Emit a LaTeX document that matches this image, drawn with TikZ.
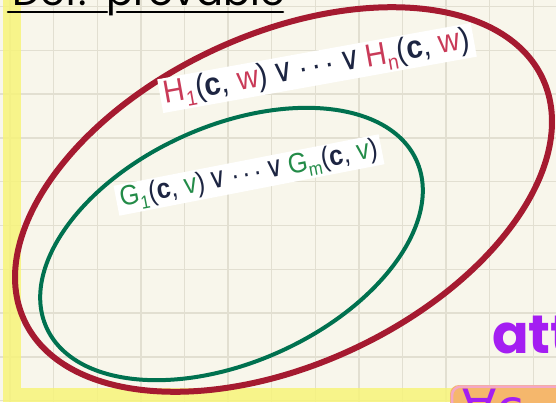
\documentclass[tikz,border=0pt]{standalone}
\usepackage{fontspec}
\usepackage{graphicx}
\setmainfont{Liberation Sans}
\newfontfamily\symfont{DejaVu Sans}
\newfontfamily\handfont{Poppins}
\definecolor{paper}{HTML}{F8F6EB}
\definecolor{gridc}{HTML}{E2DFD1}
\definecolor{hilite}{HTML}{F7F47A}
\definecolor{outerred}{HTML}{A51A30}
\definecolor{innergreen}{HTML}{00714F}
\definecolor{hred}{HTML}{C93A58}
\definecolor{ggreen}{HTML}{238B48}
\definecolor{navy}{HTML}{1D2542}
\definecolor{violet}{HTML}{A41EF2}
\definecolor{orangebox}{HTML}{F5B76C}
\definecolor{pinkedge}{HTML}{F3A7C6}
\newcommand\lsub[1]{\raisebox{-0.22em}{\scalebox{0.66}{#1}}}
\newcommand\nv[1]{\textcolor{navy}{#1}}
\newcommand\orsym{\nv{\,{\symfont ∨}\,}}
\newcommand\dts{\nv{·\hspace{0.12em}·\hspace{0.12em}·}}
\tikzset{
  gridline/.style={draw=gridc, line width=1.4pt},
  labelbox/.style={fill=white, inner xsep=4pt, inner ysep=2pt},
  hand/.style={font=\handfont\fontsize{40}{44}\selectfont, inner sep=0pt, anchor=base west}
}
\begin{document}
\begin{tikzpicture}[x=1pt, y=-1pt]
\useasboundingbox (0,0) rectangle (556,402);
\clip (0,0) rectangle (556,402);
\fill[paper] (0,0) rectangle (556,402);
% grid
\foreach \i in {0,...,12} {\draw[gridline] ({10+43.6*\i},0) -- ({10+43.6*\i},402);}
\foreach \j in {0,...,9} {\draw[gridline] (0,{6.5+43.8*\j}) -- (556,{6.5+43.8*\j});}
% highlighter border
\fill[hilite, opacity=0.85] (3,0) rectangle (21,402);
\fill[hilite, opacity=0.85] (21,388) rectangle (460,402);
% orange box at bottom right
\fill[orangebox, rounded corners=9pt] (450,385) rectangle (580,430);
\draw[pinkedge, line width=2.5pt, rounded corners=9pt] (452,431) -- (452,386.5) -- (580,386.5);
% title (cut off at the top)
\node[hand, text=black] (deftitle) at (12,5) {Def:};
\node[hand, text=black] (provtitle) at (106,5) {provable};
\coordinate (ul1a) at (8,12);
\coordinate (ul1b) at (107,12);
\coordinate (ul2a) at (117,12);
\coordinate (ul2b) at (283,12);
\draw[black, line width=2.6pt, line cap=round] (ul1a) -- (ul1b);
\draw[black, line width=2.6pt, line cap=round] (ul2a) -- (ul2b);
% ellipses
\draw[outerred, line width=6pt, shift={(283.5,199.5)}, rotate=25] (0,0) ellipse [x radius=286, y radius=165];
\draw[innergreen, line width=4pt, shift={(231.5,244)}, rotate=24.3] (0,0) ellipse [x radius=203, y radius=118];
% labels
\node[labelbox, rotate=10.2, font=\fontsize{32}{34}\selectfont] (hlabel) at (317,68)
  {\scalebox{0.92}[1]{\textcolor{hred}{H\lsub{1}}\nv{(\textbf{c}, }\textcolor{hred}{w}\nv{)}\orsym\dts\orsym\textcolor{hred}{H\lsub{n}}\nv{(\textbf{c}, }\textcolor{hred}{w}\nv{)}}};
\node[labelbox, rotate=11, font=\fontsize{28}{30}\selectfont] (glabel) at (249,175)
  {\scalebox{0.9}[1]{\textcolor{ggreen}{G\lsub{1}}\nv{(\textbf{c}, }\textcolor{ggreen}{v}\nv{)}\orsym\dts\orsym\textcolor{ggreen}{G\lsub{m}}\nv{(\textbf{c}, }\textcolor{ggreen}{v}\nv{)}}};
% purple handwriting at the bottom right
\node[hand, text=violet, font=\handfont\bfseries\fontsize{54}{58}\selectfont] (attword) at (492,353) {att};
\node[hand, text=violet, font=\symfont\fontsize{50}{54}\selectfont] (forallword) at (462,425) {∀c};
\end{tikzpicture}
\end{document}
